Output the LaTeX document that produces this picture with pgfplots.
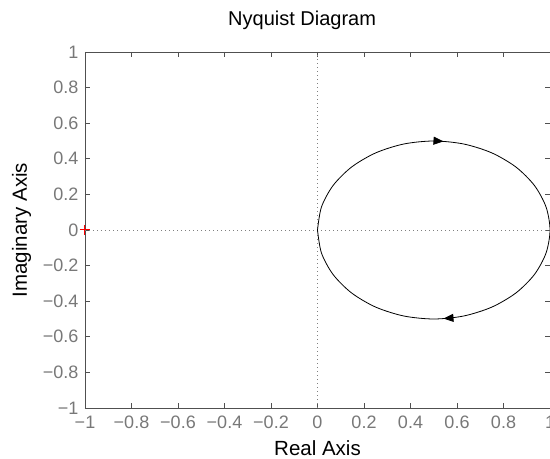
\documentclass[border=0pt]{standalone}
\usepackage{pgfplots}
\pgfplotsset{compat=1.18}
\usepackage{fontspec}
\setmainfont{Liberation Sans}
\usetikzlibrary{decorations.markings,arrows.meta}
\definecolor{axgray}{RGB}{80,80,80}
\definecolor{tickgray}{RGB}{120,120,120}
\begin{document}
\begin{tikzpicture}
\begin{axis}[
  name=ax,
  scale only axis,
  width=465pt, height=356pt,
  xmin=-1, xmax=1, ymin=-1, ymax=1,
  xtick={-1,-0.8,-0.6,-0.4,-0.2,0,0.2,0.4,0.6,0.8,1},
  xticklabels={−1,−0.8,−0.6,−0.4,−0.2,0,0.2,0.4,0.6,0.8,1},
  ytick={-1,-0.8,-0.6,-0.4,-0.2,0,0.2,0.4,0.6,0.8,1},
  yticklabels={−1,−0.8,−0.6,−0.4,−0.2,0,0.2,0.4,0.6,0.8,1},
  tick align=inside,
  major tick length=5pt,
  axis line style={axgray, line width=0.8pt},
  every tick/.style={axgray, line width=0.8pt},
  tick label style={font=\fontsize{18}{21}\selectfont, text=tickgray},
  xticklabel style={anchor=base, yshift=-21pt},
  yticklabel style={anchor=east, xshift=-3pt},
  title={Nyquist Diagram},
  title style={font=\fontsize{20}{24}\selectfont, at={(rel axis cs:0.467,1)}, anchor=base, yshift=20pt},
  xlabel={Real Axis},
  ylabel={Imaginary Axis},
  label style={font=\fontsize{20.5}{24}\selectfont},
  xlabel style={at={(rel axis cs:0.5,0)}, anchor=base, yshift=-47pt},
  ylabel style={at={(rel axis cs:0,0.5)}, anchor=base, yshift=58pt},
  clip marker paths=false,
]
\addplot[gray, line width=0.8pt, dash pattern=on 1pt off 3pt] coordinates {(0,-1) (0,1)};
\addplot[gray, line width=0.8pt, dash pattern=on 1pt off 3pt] coordinates {(-1,0) (1,0)};
\addplot[black, line width=0.8pt, smooth,
  postaction={decorate},
  decoration={markings,
    mark=at position 0.265 with {\arrow{Triangle[length=10pt,width=8pt]}},
    mark=at position 0.735 with {\arrow{Triangle[length=10pt,width=8pt]}}}]
coordinates {
(0,0) (0.01704,0.12941) (0.06699,0.25) (0.14645,0.35355) (0.25,0.43301)
(0.37059,0.48296) (0.5,0.5) (0.62941,0.48296) (0.75,0.43301) (0.85355,0.35355)
(0.93301,0.25) (0.98296,0.12941) (1,0)
(0.98296,-0.12941) (0.93301,-0.25) (0.85355,-0.35355) (0.75,-0.43301)
(0.62941,-0.48296) (0.5,-0.5) (0.37059,-0.48296) (0.25,-0.43301)
(0.14645,-0.35355) (0.06699,-0.25) (0.01704,-0.12941) (0,0)
};
\addplot[red, only marks, mark=+, mark size=5pt, line width=1pt] coordinates {(-1,0)};
\end{axis}
\pgfresetboundingbox
\useasboundingbox ([xshift=-85pt,yshift=-51pt]ax.south west) rectangle ([yshift=52pt]ax.north east);
\end{tikzpicture}
\end{document}
